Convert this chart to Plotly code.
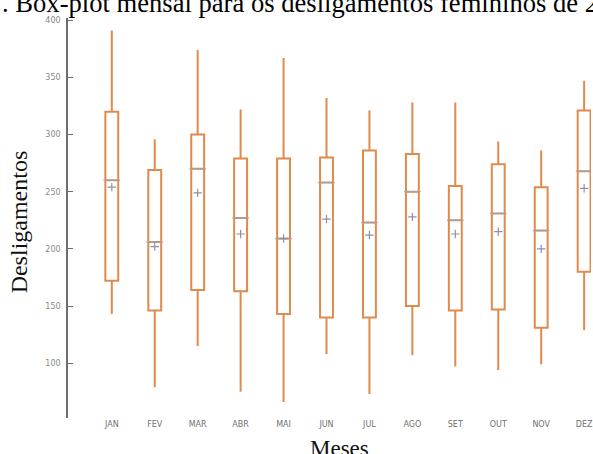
import plotly.graph_objects as go

meses = ["JAN", "FEV", "MAR", "ABR", "MAI", "JUN", "JUL", "AGO", "SET", "OUT", "NOV", "DEZ"]
minimo = [143, 79, 115, 75, 66, 108, 73, 107, 97, 94, 99, 129]
q1 = [172, 146, 164, 163, 143, 140, 140, 150, 146, 147, 131, 180]
mediana = [260, 206, 270, 227, 209, 258, 223, 250, 225, 231, 216, 268]
media = [254, 202, 249, 213, 209, 226, 212, 228, 213, 215, 200, 253]
q3 = [320, 269, 300, 279, 279, 280, 286, 283, 255, 274, 254, 321]
maximo = [391, 296, 374, 322, 367, 332, 321, 328, 328, 294, 286, 347]
y_ticks = [100, 150, 200, 250, 300, 350, 400]

orange = "#E08A4C"
gray = "#8C93A8"

fig = go.Figure()
fig.add_trace(go.Box(
    x=meses, q1=q1, median=mediana, q3=q3,
    lowerfence=minimo, upperfence=maximo,
    boxpoints=False, whiskerwidth=0, width=0.3,
    line=dict(color=orange, width=2), fillcolor="rgba(255,255,255,0)",
    showlegend=False, hoverinfo="skip",
))
fig.add_trace(go.Scatter(
    x=meses, y=mediana, mode="markers",
    marker=dict(symbol="line-ew", size=12, line=dict(color="#A0A4B0", width=1.2)),
    showlegend=False, hoverinfo="skip",
))
fig.add_trace(go.Scatter(
    x=meses, y=media, mode="markers",
    marker=dict(symbol="cross-thin", size=6, line=dict(color=gray, width=1.2)),
    showlegend=False, hoverinfo="skip",
))

fig.update_layout(
    width=593, height=454,
    margin=dict(l=68, r=0, t=18, b=36),
    paper_bgcolor="white", plot_bgcolor="white",
    showlegend=False,
    xaxis=dict(
        type="category", range=[-1.02, 11.16],
        showline=False, showgrid=False, zeroline=False, ticks="",
        tickfont=dict(family="DejaVu Sans", size=8, color="#707070"),
    ),
    yaxis=dict(
        range=[52, 402], tickvals=y_ticks,
        showline=True, linecolor="#6E6E6E", linewidth=1.5,
        ticks="inside", ticklen=5, tickcolor="#6E6E6E", tickwidth=1,
        showgrid=False, zeroline=False,
        tickfont=dict(family="DejaVu Sans", size=8, color="#888888"),
        ticklabelstandoff=4,
    ),
    annotations=[
        dict(text="Desligamentos", xref="paper", yref="paper", x=-0.093, y=0.49,
             xanchor="center", yanchor="middle", textangle=-90, showarrow=False,
             font=dict(family="Liberation Serif", size=24, color="#111111")),
        dict(text="Meses", xref="paper", yref="paper", x=0.52, y=-0.04,
             xanchor="center", yanchor="top", showarrow=False,
             font=dict(family="Liberation Serif", size=23, color="#111111")),
        dict(text=". Box-plot mensal para os desligamentos femininos de 2", xref="paper", yref="paper",
             x=(0 - 68) / 525, y=1.0375, xanchor="left", yanchor="middle", showarrow=False,
             font=dict(family="Liberation Serif", size=26.6, color="#000000")),
    ],
)

fig.write_html("out.html", config={"displayModeBar": False},
               post_script="document.body.style.margin='0';")
